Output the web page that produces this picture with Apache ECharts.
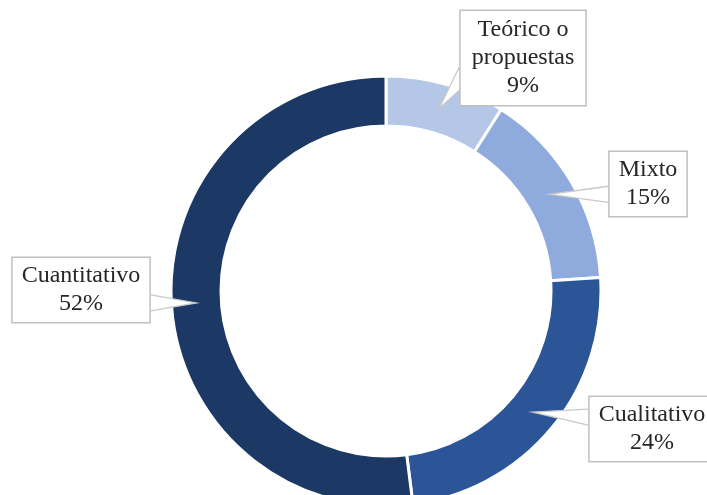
<!DOCTYPE html>
<html>
<head>
<meta charset="utf-8">
<script src="https://cdn.jsdelivr.net/npm/echarts@6/dist/echarts.min.js"></script>
<style>
    html, body { margin: 0; padding: 0; background: #fff; }
    #main { width: 707px; height: 495px; }
</style>
</head>
<body>
<div id="main"></div>
<script>
    var categories = ['Teórico o propuestas', 'Mixto', 'Cualitativo', 'Cuantitativo'];
    var labelTexts = ['Teórico o\npropuestas', 'Mixto', 'Cualitativo', 'Cuantitativo'];
    var values = [9, 15, 24, 52];
    var colors = ['#b4c7e7', '#8faadc', '#2b5597', '#1c3864'];

    // where the callout boxes sit (centre x, top y), like the manual callouts in the original
    var calloutPos = [[523, 11], [648, 152], [652, 397], [81, 258]];

    var center = [386, 291];
    var radius = [165, 215];
    var total = values.reduce(function (a, b) { return a + b; }, 0);

    // point in the middle of the ring at the slice's mid angle (clockwise from top)
    function tipPoint(i) {
        var before = 0;
        for (var j = 0; j < i; j++) before += values[j];
        var mid = (before + values[i] / 2) / total * 2 * Math.PI;
        var r = (radius[0] + radius[1]) / 2;
        return [center[0] + r * Math.sin(mid), center[1] - r * Math.cos(mid)];
    }

    var myChart = echarts.init(document.getElementById('main'));

    var wedges = [];

    var ringData = values.map(function (v, i) {
        return { name: categories[i], value: v, itemStyle: { color: colors[i] } };
    });

    // same values again, invisible, only to carry the callouts above the ring
    var calloutData = values.map(function (v, i) {
        var item = { name: categories[i], value: v };
        if (i === 0) item.label = { padding: [5, 11] };
        return item;
    });

    var option = {
        animation: false,
        series: [{
            type: 'pie',
            z: 2,
            center: center,
            radius: radius,
            startAngle: 90,
            clockwise: true,
            silent: true,
            emphasis: { disabled: true },
            itemStyle: { borderColor: '#fff', borderWidth: 3 },
            label: { show: false },
            labelLine: { show: false },
            data: ringData
        }, {
            type: 'pie',
            z: 5,
            center: center,
            radius: radius,
            startAngle: 90,
            clockwise: true,
            silent: true,
            avoidLabelOverlap: false,
            emphasis: { disabled: true },
            itemStyle: { color: 'rgba(0,0,0,0)', borderWidth: 0 },
            label: {
                show: true,
                position: 'outside',
                formatter: function (p) {
                    return labelTexts[p.dataIndex] + '\n' + p.value + '%';
                },
                fontFamily: 'Liberation Serif',
                fontSize: 24,
                lineHeight: 28,
                color: '#262626',
                backgroundColor: '#fff',
                borderColor: '#bfbfbf',
                borderWidth: 1.5,
                padding: [4, 9]
            },
            labelLine: {
                show: true,
                lineStyle: { color: '#c8c8c8', width: 1.3 }
            },
            labelLayout: function (params) {
                var i = params.dataIndex;
                var w = params.labelRect.width;
                var h = params.labelRect.height;
                var cx = calloutPos[i][0];
                var top = calloutPos[i][1];
                var left = cx - w / 2;
                var tip = tipPoint(i);
                var edgeX = tip[0] < left ? left : left + w;
                var mid = Math.min(Math.max(tip[1], top + 0.3 * h), top + h - 0.3 * h);
                var half = 0.12 * h;
                var pts = [[edgeX, mid - half], tip, [edgeX, mid + half]];
                wedges[i] = pts;
                return {
                    x: cx,
                    y: top,
                    align: 'center',
                    verticalAlign: 'top',
                    labelLinePoints: pts
                };
            },
            data: calloutData
        }]
    };
    myChart.setOption(option);

    // white fill inside each callout pointer
    myChart.setOption({
        graphic: wedges.map(function (pts) {
            return {
                type: 'polygon',
                z: 3,
                silent: true,
                shape: { points: pts },
                style: { fill: '#fff', stroke: null }
            };
        })
    });
</script>
</body>
</html>
